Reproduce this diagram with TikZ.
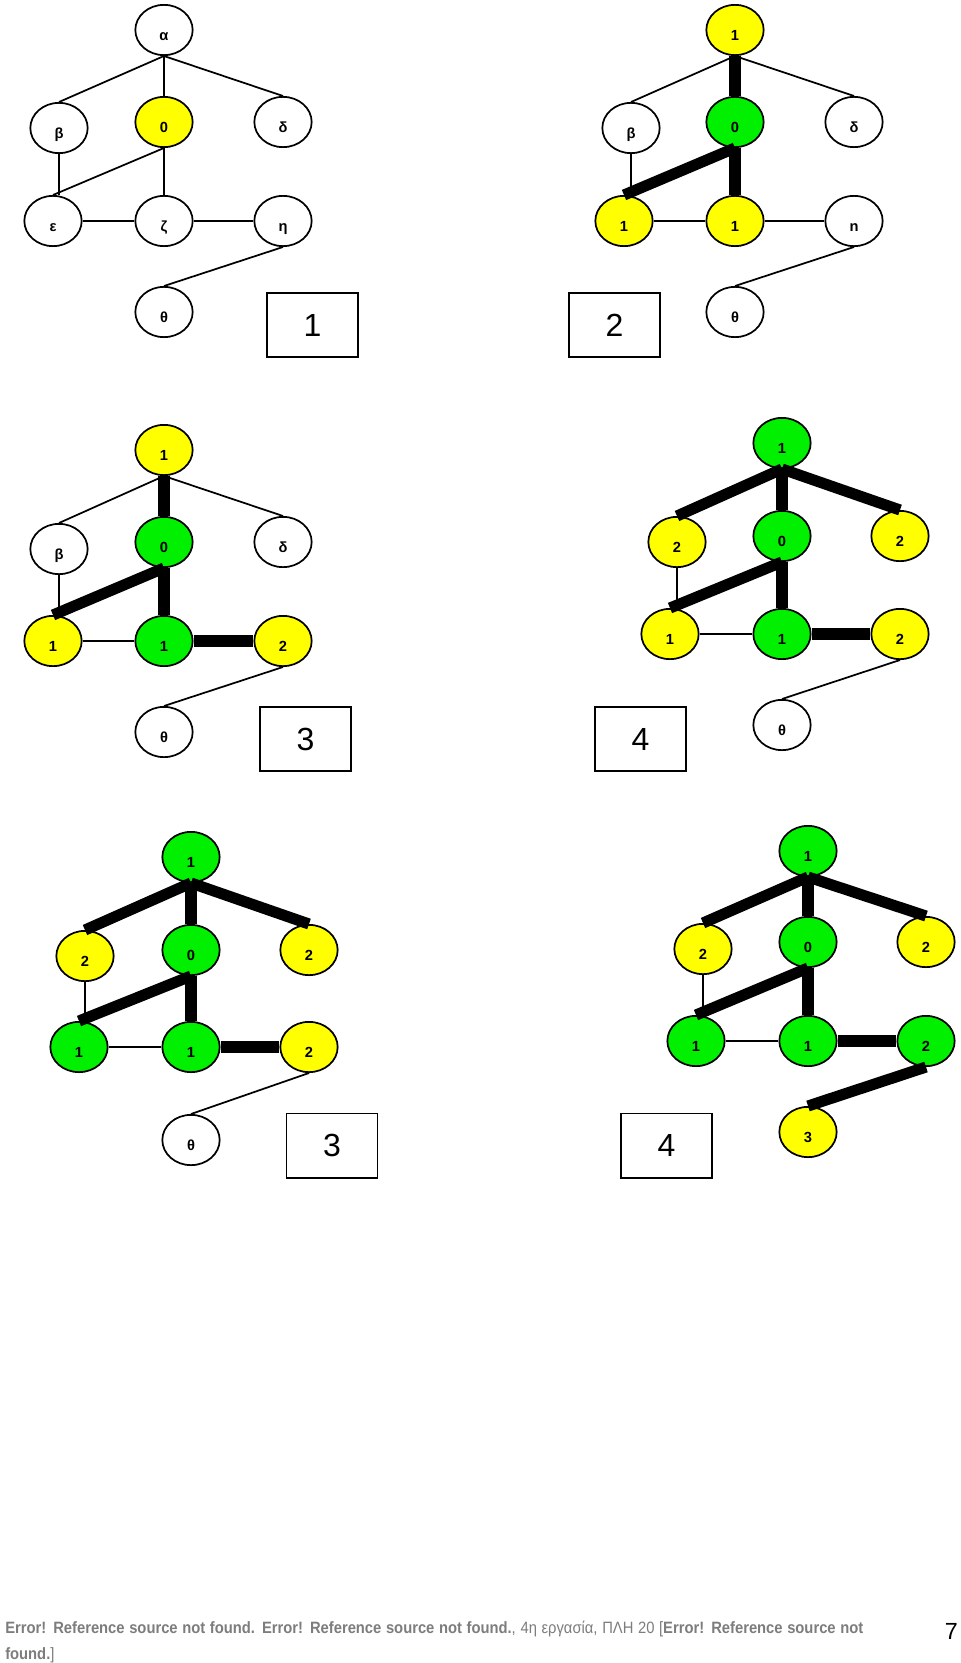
\documentclass[tikz,border=0pt]{standalone}
\usepackage{fontspec}
\setmainfont{Liberation Sans}
\newfontfamily\footfont[FakeStretch=0.9]{Liberation Sans}
\usetikzlibrary{shapes.geometric}
\definecolor{ndyellow}{RGB}{255,255,0}
\definecolor{ndgreen}{RGB}{0,240,0}
\definecolor{footgrey}{RGB}{125,125,125}
\newcommand{\nlab}[1]{\raisebox{-7.7pt}[0pt][0pt]{#1}}
\tikzset{
  nd/.style={ellipse, draw, line width=1.3pt, minimum width=43pt, minimum height=37.7pt,
    inner sep=0pt, font=\fontsize{11pt}{13pt}\bfseries\selectfont},
  wht/.style={nd, fill=white},
  yel/.style={nd, fill=ndyellow},
  grn/.style={nd, fill=ndgreen},
  thinedge/.style={line width=1.3pt},
  thickedge/.style={line width=8.3pt},
  numbox/.style={draw, line width=1.3pt, minimum width=68.4pt, minimum height=48.2pt,
    inner sep=0pt, font=\fontsize{24pt}{28pt}\selectfont},
  foot/.style={inner sep=0pt, text=footgrey, font=\footfont\fontsize{12.3pt}{14pt}\selectfont}
}
\begin{document}
\begin{tikzpicture}[x=0.75pt,y=-0.75pt]
\useasboundingbox (0,0) rectangle (960,1663);
\fill[white] (0,0) rectangle (960,1663);

% ---------------- Panel 1
\node[wht] (p1a) at (164,30) {\nlab{α}};
\node[wht] (p1b) at (59,128) {\nlab{β}};
\node[yel] (p1c) at (164,122) {\nlab{0}};
\node[wht] (p1d) at (283,122) {\nlab{δ}};
\node[wht] (p1e) at (53,221) {\nlab{ε}};
\node[wht] (p1f) at (164,221) {\nlab{ζ}};
\node[wht] (p1g) at (283,221) {\nlab{η}};
\node[wht] (p1h) at (164,312) {\nlab{θ}};
\node[numbox] (p1box) at (312.5,325) {1};
\draw[thinedge] (p1a.south) -- (p1b.north);
\draw[thinedge] (p1a.south) -- (p1c.north);
\draw[thinedge] (p1a.south) -- (p1d.north);
\draw[thinedge] (p1b.south) -- (p1b.south |- p1e.north);
\draw[thinedge] (p1c.south) -- (p1e.north);
\draw[thinedge] (p1c.south) -- (p1f.north);
\draw[thinedge] (p1e.east) -- (p1f.west);
\draw[thinedge] (p1f.east) -- (p1g.west);
\draw[thinedge] (p1g.south) -- (p1h.north);

% ---------------- Panel 2
\node[yel] (p2a) at (735,30) {\nlab{1}};
\node[wht] (p2b) at (631,128) {\nlab{β}};
\node[grn] (p2c) at (735,122) {\nlab{0}};
\node[wht] (p2d) at (854,122) {\nlab{δ}};
\node[yel] (p2e) at (624,221) {\nlab{1}};
\node[yel] (p2f) at (735,221) {\nlab{1}};
\node[wht] (p2g) at (854,221) {\nlab{n}};
\node[wht] (p2h) at (735,312) {\nlab{θ}};
\node[numbox] (p2box) at (614.5,325) {2};
\draw[thinedge] (p2a.south) -- (p2b.north);
\draw[thinedge] (p2a.south) -- (p2d.north);
\draw[thinedge] (p2b.south) -- (p2b.south |- p2e.north);
\draw[thinedge] (p2e.east) -- (p2f.west);
\draw[thinedge] (p2f.east) -- (p2g.west);
\draw[thinedge] (p2g.south) -- (p2h.north);
\draw[thickedge] (p2a.south) -- (p2c.north);
\draw[thickedge] (p2c.south) -- (p2e.north);
\draw[thickedge] (p2c.south) -- (p2f.north);

% ---------------- Panel 3
\node[yel] (p3a) at (164,450) {\nlab{1}};
\node[wht] (p3b) at (59,549) {\nlab{β}};
\node[grn] (p3c) at (164,542) {\nlab{0}};
\node[wht] (p3d) at (283,542) {\nlab{δ}};
\node[yel] (p3e) at (53,641) {\nlab{1}};
\node[grn] (p3f) at (164,641) {\nlab{1}};
\node[yel] (p3g) at (283,641) {\nlab{2}};
\node[wht] (p3h) at (164,732) {\nlab{θ}};
\node[numbox] (p3box) at (305.5,739) {3};
\draw[thinedge] (p3a.south) -- (p3b.north);
\draw[thinedge] (p3a.south) -- (p3d.north);
\draw[thinedge] (p3b.south) -- (p3b.south |- p3e.north);
\draw[thinedge] (p3e.east) -- (p3f.west);
\draw[thinedge] (p3g.south) -- (p3h.north);
\draw[thickedge] (p3a.south) -- (p3c.north);
\draw[thickedge] (p3c.south) -- (p3e.north);
\draw[thickedge] (p3c.south) -- (p3f.north);
\draw[thickedge] (p3f.east) -- (p3g.west);

% ---------------- Panel 4
\node[grn] (p4a) at (782,443) {\nlab{1}};
\node[yel] (p4b) at (677,542) {\nlab{2}};
\node[grn] (p4c) at (782,536) {\nlab{0}};
\node[yel] (p4d) at (900,536) {\nlab{2}};
\node[yel] (p4e) at (670,634) {\nlab{1}};
\node[grn] (p4f) at (782,634) {\nlab{1}};
\node[yel] (p4g) at (900,634) {\nlab{2}};
\node[wht] (p4h) at (782,725) {\nlab{θ}};
\node[numbox] (p4box) at (640.5,739) {4};
\draw[thinedge] (p4b.south) -- (p4b.south |- p4e.north);
\draw[thinedge] (p4e.east) -- (p4f.west);
\draw[thinedge] (p4g.south) -- (p4h.north);
\draw[thickedge] (p4a.south) -- (p4b.north);
\draw[thickedge] (p4a.south) -- (p4c.north);
\draw[thickedge] (p4a.south) -- (p4d.north);
\draw[thickedge] (p4c.south) -- (p4e.north);
\draw[thickedge] (p4c.south) -- (p4f.north);
\draw[thickedge] (p4f.east) -- (p4g.west);

% ---------------- Panel 5
\node[grn] (p5a) at (191,857) {\nlab{1}};
\node[yel] (p5b) at (85,956) {\nlab{2}};
\node[grn] (p5c) at (191,950) {\nlab{0}};
\node[yel] (p5d) at (309,950) {\nlab{2}};
\node[grn] (p5e) at (79,1047) {\nlab{1}};
\node[grn] (p5f) at (191,1047) {\nlab{1}};
\node[yel] (p5g) at (309,1047) {\nlab{2}};
\node[wht] (p5h) at (191,1140) {\nlab{θ}};
\node[numbox] (p5box) at (332,1145.5) {3};
\draw[thinedge] (p5b.south) -- (p5b.south |- p5e.north);
\draw[thinedge] (p5e.east) -- (p5f.west);
\draw[thinedge] (p5g.south) -- (p5h.north);
\draw[thickedge] (p5a.south) -- (p5b.north);
\draw[thickedge] (p5a.south) -- (p5c.north);
\draw[thickedge] (p5a.south) -- (p5d.north);
\draw[thickedge] (p5c.south) -- (p5e.north);
\draw[thickedge] (p5c.south) -- (p5f.north);
\draw[thickedge] (p5f.east) -- (p5g.west);

% ---------------- Panel 6
\node[grn] (p6a) at (808,851) {\nlab{1}};
\node[yel] (p6b) at (703,949) {\nlab{2}};
\node[grn] (p6c) at (808,942) {\nlab{0}};
\node[yel] (p6d) at (926,942) {\nlab{2}};
\node[grn] (p6e) at (696,1041) {\nlab{1}};
\node[grn] (p6f) at (808,1041) {\nlab{1}};
\node[grn] (p6g) at (926,1041) {\nlab{2}};
\node[yel] (p6h) at (808,1132) {\nlab{3}};
\node[numbox] (p6box) at (666.5,1145.5) {4};
\draw[thinedge] (p6b.south) -- (p6b.south |- p6e.north);
\draw[thinedge] (p6e.east) -- (p6f.west);
\draw[thickedge] (p6a.south) -- (p6b.north);
\draw[thickedge] (p6a.south) -- (p6c.north);
\draw[thickedge] (p6a.south) -- (p6d.north);
\draw[thickedge] (p6c.south) -- (p6e.north);
\draw[thickedge] (p6c.south) -- (p6f.north);
\draw[thickedge] (p6f.east) -- (p6g.west);
\draw[thickedge] (p6g.south) -- (p6h.north);

% ---------------- Footer
\node[foot, anchor=base west] (ft1) at (5,1633)
  {\makebox[643.5pt][s]{\textbf{Error! Reference source not found. Error! Reference source not found.}, 4η εργασία, ΠΛΗ 20 [\textbf{Error! Reference source not}}};
\node[foot, anchor=base west] (ft2) at (5,1659) {\textbf{found.}]};
\node[inner sep=0pt, anchor=base east, font=\fontsize{17.5pt}{20pt}\selectfont] (pgno) at (958,1639) {7};
\end{tikzpicture}
\end{document}
